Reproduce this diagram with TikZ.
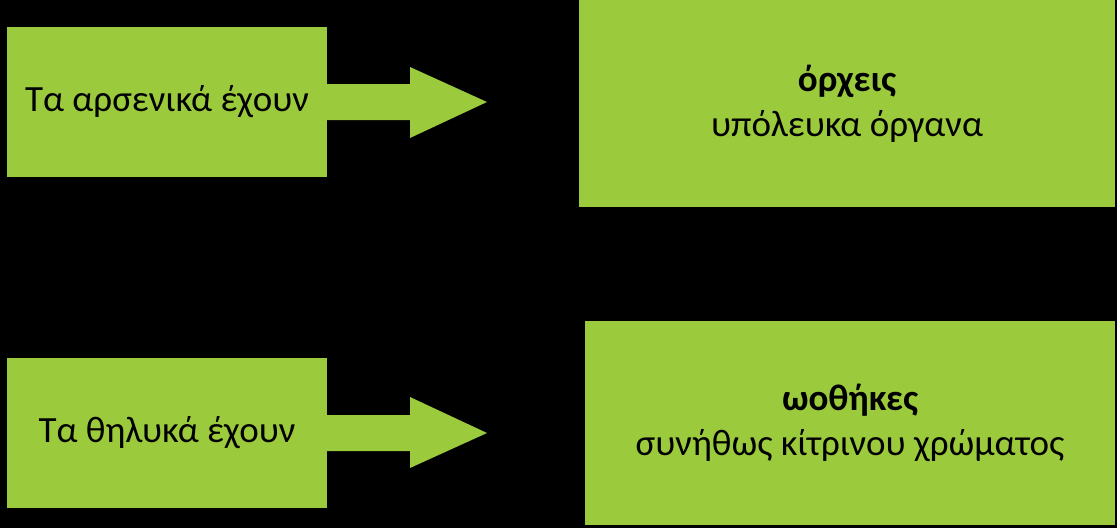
\documentclass[tikz,border=0pt]{standalone}
\usepackage{fontspec}
\setmainfont{Carlito}
\definecolor{grn}{HTML}{9BCB3C}
\begin{document}
\begin{tikzpicture}[x=1pt,y=-1pt,
  gbox/.style={fill=grn,draw=none,inner sep=0pt,align=center,font=\fontsize{37}{45}\selectfont},
  garrow/.style={fill=grn,draw=none}]
\fill[black] (0,0) rectangle (1117,528);
\useasboundingbox (0,0) rectangle (1117,528);
\node[gbox,minimum width=320,minimum height=150] (a) at (167,102) {Τα αρσενικά έχουν};
\node[gbox,minimum width=536,minimum height=207] (b) at (847,103.5) {\textbf{όρχεις}\\υπόλευκα όργανα};
\node[gbox,minimum width=320,minimum height=150] (c) at (167,433) {Τα θηλυκά έχουν};
\node[gbox,minimum width=530,minimum height=204] (d) at (850,423) {\textbf{ωοθήκες}\\συνήθως κίτρινου χρώματος};
\coordinate (t1) at (487,102);
\coordinate (t2) at (487,433);
\fill[garrow] (a.east |- 0,84) -- (410,84) -- (410,67) -- (t1) -- (410,138) -- (410,120) -- (a.east |- 0,120) -- cycle;
\fill[garrow] (c.east |- 0,415) -- (410,415) -- (410,397) -- (t2) -- (410,468) -- (410,451) -- (c.east |- 0,451) -- cycle;
\end{tikzpicture}
\end{document}
